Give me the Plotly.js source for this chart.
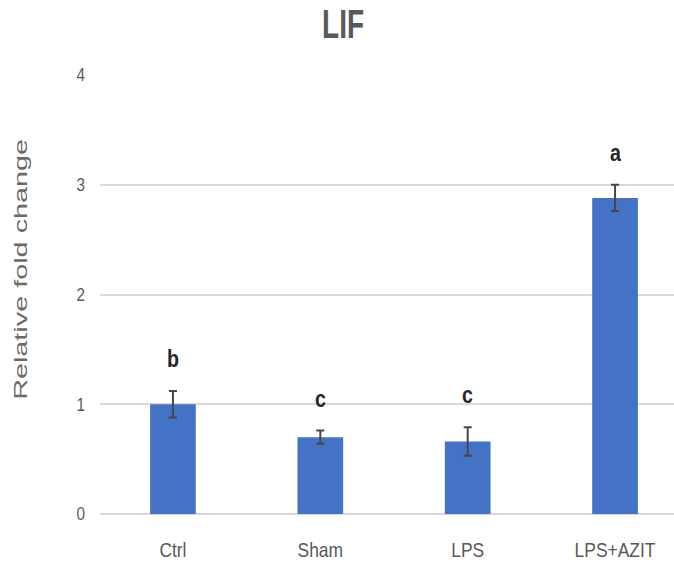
<!DOCTYPE html>
<html>
<head>
<meta charset="utf-8">
<script src="https://cdn.plot.ly/plotly-3.0.1.min.js"></script>
<style>
  html, body { margin: 0; padding: 0; background: #ffffff; }
  #chart { width: 674px; height: 579px; }
</style>
</head>
<body>
<div id="chart"></div>
<script>
// LIF expression, relative fold change per group
const groups = ["Ctrl", "Sham", "LPS", "LPS+AZIT"];
const foldChange = [1.00, 0.70, 0.66, 2.88];
const errors = [0.12, 0.06, 0.13, 0.12];
const sigLetters = ["b", "c", "c", "a"];
const yTicks = [0, 1, 2, 3, 4];

const sans = "'Liberation Sans', Arial, sans-serif";

const bars = {
  type: "bar",
  x: groups,
  y: foldChange,
  marker: { color: "#4472C4", line: { width: 0 } },
  error_y: {
    type: "data",
    array: errors,
    visible: true,
    color: "#474747",
    thickness: 2,
    width: 4
  },
  hoverinfo: "x+y"
};

// significance letters sit a little above each error bar
const letterNotes = groups.map((g, i) => ({
  x: g,
  y: foldChange[i] + errors[i],
  xref: "x",
  yref: "y",
  text: sigLetters[i],
  showarrow: false,
  yanchor: "bottom",
  yshift: 17,
  font: { family: sans, size: 23, color: "#262626", weight: 700 }
}));

const layout = {
  width: 674,
  height: 579,
  margin: { l: 100, r: 0, t: 75, b: 65 },
  paper_bgcolor: "#ffffff",
  plot_bgcolor: "#ffffff",
  showlegend: false,
  bargap: 0.69,
  title: {
    text: "LIF",
    xref: "container",
    yref: "container",
    x: 0.509,
    xanchor: "center",
    y: 0.958,
    yanchor: "middle",
    font: { family: sans, size: 40, color: "#595959", weight: 700 }
  },
  xaxis: {
    type: "category",
    range: [-0.495, 3.40],
    showgrid: false,
    showline: false,
    zeroline: false,
    ticks: "",
    ticklabelstandoff: 21,
    tickfont: { family: sans, size: 21, color: "#595959" },
    fixedrange: true
  },
  yaxis: {
    range: [0, 4],
    tickvals: yTicks,
    ticktext: yTicks.map(String),
    showgrid: true,
    gridcolor: "#d9d9d9",
    gridwidth: 2,
    zeroline: true,
    zerolinecolor: "#d9d9d9",
    zerolinewidth: 2,
    showline: false,
    ticks: "",
    ticklabelstandoff: 14,
    tickfont: { family: sans, size: 18, color: "#595959" },
    fixedrange: true
  },
  annotations: [
    {
      text: "Relative fold change",
      xref: "paper",
      yref: "paper",
      x: -0.1376,
      y: 0.556,
      xanchor: "center",
      yanchor: "middle",
      textangle: -90,
      showarrow: false,
      font: { family: sans, size: 18, color: "#6a6a6a" }
    }
  ].concat(letterNotes)
};

// condensed / stretched lettering: rescale glyph runs along their baseline
function rescaleText(gd, selector, factor) {
  gd.querySelectorAll(selector).forEach(t => {
    const w = t.getComputedTextLength();
    if (w > 0) {
      t.setAttribute("textLength", (w * factor).toFixed(1));
      t.setAttribute("lengthAdjust", "spacingAndGlyphs");
    }
  });
}

const gd = document.getElementById("chart");
Plotly.newPlot(gd, [bars], layout, { displayModeBar: false, staticPlot: true }).then(() => {
  rescaleText(gd, ".gtitle", 0.7);
  rescaleText(gd, ".xtick text", 0.83);
  rescaleText(gd, ".ytick text", 0.85);
  rescaleText(gd, 'g.annotation[data-index="0"] text', 1.6);
  rescaleText(gd, 'g.annotation:not([data-index="0"]) text', 0.85);
});
</script>
</body>
</html>
